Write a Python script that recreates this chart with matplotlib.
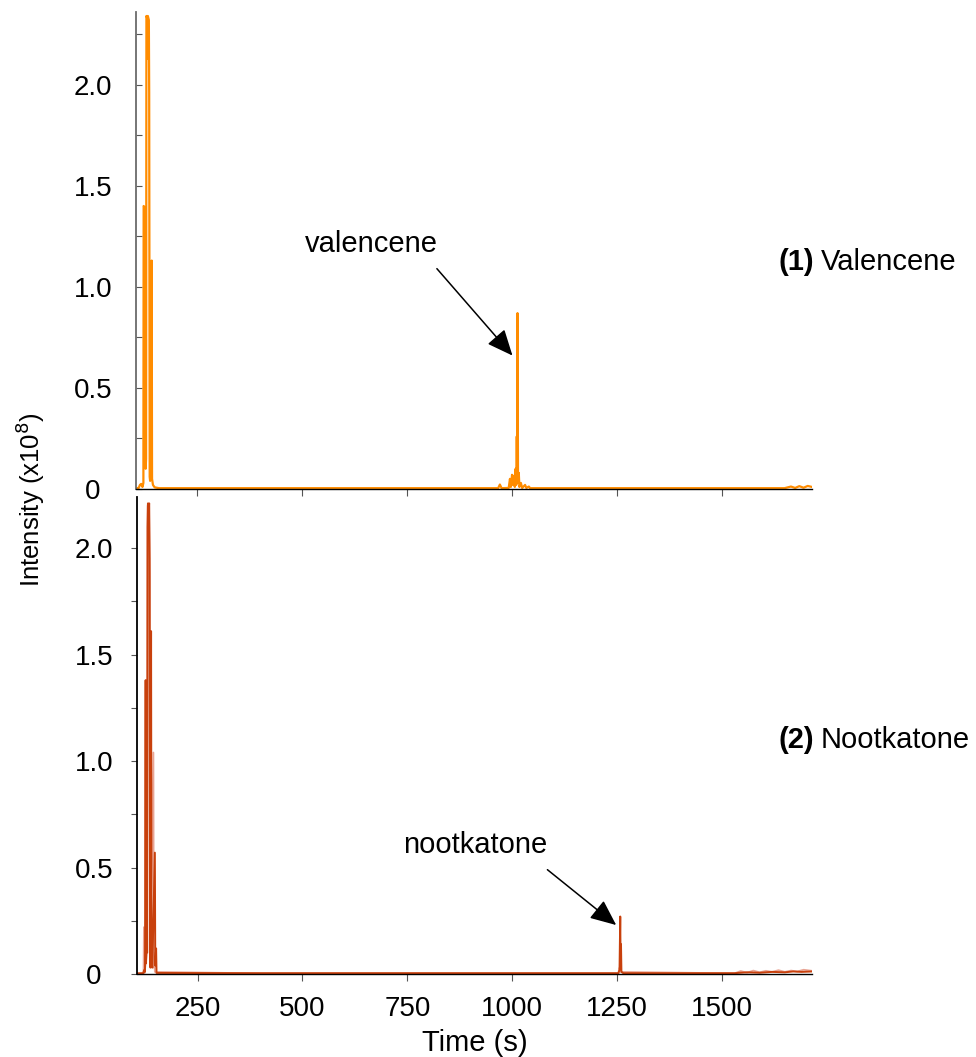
import matplotlib
matplotlib.use("Agg")
import matplotlib.pyplot as plt

plt.rcParams['font.family'] = ['Liberation Sans', 'DejaVu Sans']

# --- chromatogram traces (time in s, intensity in units of 1e8) ---
valencene_time = [106, 112, 115, 118, 121, 123.2, 123.8, 127.8, 128.6, 129.6,
                  130.4, 132.4, 133.0, 133.8, 136.2, 137.0, 138.2, 139.2, 140.0,
                  140.8, 142.2, 143.0, 143.8, 146, 150, 160, 400, 700, 968,
                  972, 976, 993, 996, 998, 1001, 1003, 1005.5, 1007.5, 1009.5, 1011,
                  1012.2, 1013, 1014, 1015.2, 1017, 1018.5, 1022, 1025, 1032,
                  1035, 1041, 1044, 1300, 1650, 1665, 1675, 1685, 1695, 1705, 1715]
valencene_signal = [0.004, 0.005, 0.02, 0.025, 0.01, 0.03, 1.40, 1.39, 0.10, 0.15,
                    2.34, 2.33, 2.13, 2.34, 2.32, 1.96, 0.06, 0.04, 0.57,
                    0.10, 0.12, 1.13, 0.05, 0.02, 0.008, 0.004, 0.004, 0.004, 0.004,
                    0.022, 0.004, 0.005, 0.05, 0.01, 0.07, 0.02, 0.065, 0.01, 0.10, 0.02,
                    0.26, 0.10, 0.87, 0.03, 0.08, 0.01, 0.03, 0.005, 0.02,
                    0.005, 0.012, 0.004, 0.004, 0.004, 0.012, 0.005, 0.014, 0.006, 0.015, 0.01]

nootkatone_time = [106, 120, 123, 124.5, 126, 127, 128.5, 129.5, 130.5, 131.5,
                   133, 134.5, 135.5, 136.5, 137.5, 139, 140, 142, 148, 149, 151,
                   152, 400, 800, 1253, 1256, 1257.7, 1258.5, 1259.5, 1260.5, 1265,
                   1530, 1560, 1590, 1620, 1650, 1670, 1690, 1715]
nootkatone_signal = [0.003, 0.004, 0.02, 0.01, 1.38, 0.05, 1.28, 0.10, 2.10, 2.21,
                     2.19, 2.21, 1.95, 0.20, 0.03, 1.61, 0.05, 0.03, 0.57, 0.04, 0.12,
                     0.005, 0.004, 0.004, 0.004, 0.02, 0.27, 0.05, 0.14, 0.01, 0.004,
                     0.004, 0.008, 0.006, 0.01, 0.008, 0.012, 0.01, 0.012]

blank_time = [106, 121, 122, 123, 130, 131, 134, 136, 137, 144.5, 145.5, 147, 148,
              400, 900, 1254, 1256, 1258, 1530, 1545, 1560, 1575, 1590, 1605,
              1620, 1635, 1650, 1665, 1680, 1695, 1715]
blank_signal = [0.003, 0.003, 0.22, 0.003, 0.10, 2.20, 2.20, 1.86, 0.05, 1.04, 0.03,
                0.10, 0.01, 0.003, 0.003, 0.003, 0.03, 0.01, 0.003, 0.014, 0.006,
                0.016, 0.008, 0.015, 0.01, 0.018, 0.01, 0.016, 0.012, 0.02, 0.015]

x_ticks = [250, 500, 750, 1000, 1250, 1500]
y_ticks = [0, 0.25, 0.5, 0.75, 1.0, 1.25, 1.5, 1.75, 2.0, 2.25]


def y_label(v):
    if v == 0:
        return "0"
    if abs(v * 2 - round(v * 2)) < 1e-9:
        return f"{v:.1f}"
    return ""


fig = plt.figure(figsize=(9.76, 10.57), dpi=100)
ax1 = fig.add_axes([0.1393, 0.5374, 0.6926, 0.4513])
ax2 = fig.add_axes([0.1404, 0.0785, 0.6916, 0.4513])

ax1.plot(valencene_time, valencene_signal, color='#ff8c00', lw=1.6)
ax2.plot(blank_time, blank_signal, color='#e9a595', lw=1.3)
ax2.plot(nootkatone_time, nootkatone_signal, color='#c8400c', lw=1.4)

for ax, top, spine_col, tdir, pad in [(ax1, 2.36, '#6b6b6b', 'in', 31),
                                      (ax2, 2.24, 'black', 'out', 27)]:
    ax.set_xlim(105.5, 1715)
    ax.set_ylim(0, top)
    ax.spines['top'].set_visible(False)
    ax.spines['right'].set_visible(False)
    ax.spines['left'].set_color(spine_col)
    ax.spines['left'].set_linewidth(1.3)
    ax.spines['bottom'].set_linewidth(1.0)
    ax.set_xticks(x_ticks)
    ax.set_yticks([t for t in y_ticks if t <= top])
    ax.set_yticklabels([y_label(t) for t in y_ticks if t <= top])
    ax.tick_params(axis='y', direction=tdir, length=4, width=0.8,
                   labelsize=20, pad=pad, color='#555555')
    for lab in ax.get_yticklabels():
        lab.set_horizontalalignment('center')
    ax.tick_params(axis='x', direction='out', length=5, width=0.8,
                   labelsize=20, pad=11, color='#555555')

ax1.tick_params(axis='x', labelbottom=False)
ax2.set_xlabel("Time (s)", fontsize=21, labelpad=5)

fig.text(30 / 976, 1 - 500 / 1057, "Intensity (x10$^8$)", rotation=90,
         ha='center', va='center', fontsize=18.5)

# peak labels with arrows
head = '-|>,head_length=0.8,head_width=0.35'
ax1.text(665, 1.21, "valencene", ha='center', va='center', fontsize=21)
ax1.annotate("", xy=(1002, 0.66), xytext=(822, 1.09),
             arrowprops=dict(arrowstyle=head, color='black', lw=1.1,
                             mutation_scale=20, shrinkA=0, shrinkB=0))
ax2.text(913, 0.606, "nootkatone", ha='center', va='center', fontsize=21)
ax2.annotate("", xy=(1248, 0.23), xytext=(1084, 0.49),
             arrowprops=dict(arrowstyle=head, color='black', lw=1.1,
                             mutation_scale=20, shrinkA=0, shrinkB=0))

# sample names on the right
fig.text(778 / 976, 1 - 262 / 1057, "(1)", fontweight='bold', fontsize=21,
         ha='left', va='center')
fig.text(821 / 976, 1 - 262 / 1057, "Valencene", fontsize=21,
         ha='left', va='center')
fig.text(778 / 976, 1 - 740 / 1057, "(2)", fontweight='bold', fontsize=21,
         ha='left', va='center')
fig.text(821 / 976, 1 - 740 / 1057, "Nootkatone", fontsize=21,
         ha='left', va='center')

fig.savefig("out.png", dpi=100)
